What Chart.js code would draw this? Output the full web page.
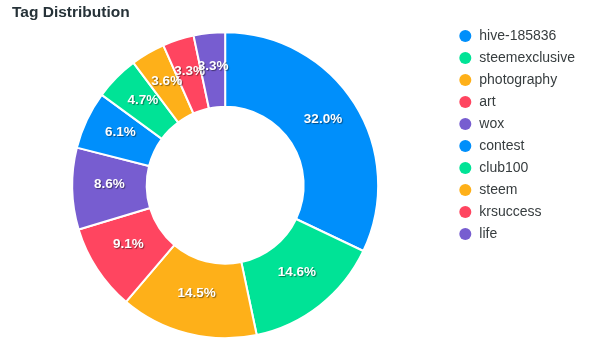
<!DOCTYPE html>
<html>
<head>
<meta charset="utf-8">
<script src="https://cdn.jsdelivr.net/npm/chart.js@4.4.1/dist/chart.umd.min.js"></script>
<style>
  html, body { margin: 0; padding: 0; background: #fff; }
  #wrap { position: relative; width: 595px; height: 352px; }
  #title {
    position: absolute; left: 12px; top: 4px;
    font: bold 15.5px "Liberation Sans", Arial, sans-serif;
    line-height: 1; color: #263238;
  }
  canvas { display: block; }
</style>
</head>
<body>
<div id="wrap">
  <div id="title">Tag Distribution</div>
  <canvas id="tagChart" width="595" height="352"></canvas>
</div>
<script>
const tags = ["hive-185836", "steemexclusive", "photography", "art", "wox",
              "contest", "club100", "steem", "krsuccess", "life"];
const shares = [32.0, 14.6, 14.5, 9.1, 8.6, 6.1, 4.7, 3.6, 3.3, 3.3];
const palette = ["#008FFB", "#00E396", "#FEB019", "#FF4560", "#775DD0"];

const FONT = "'Liberation Sans', Arial, sans-serif";

// percentage labels with a soft drop shadow, drawn in the middle of each slice
const sliceLabels = {
  id: "sliceLabels",
  afterDatasetsDraw(chart) {
    const ctx = chart.ctx;
    const meta = chart.getDatasetMeta(0);
    ctx.save();
    ctx.font = "bold 13.5px " + FONT;
    ctx.textAlign = "center";
    ctx.textBaseline = "middle";
    ctx.fillStyle = "#fff";
    ctx.shadowColor = "rgba(0,0,0,0.45)";
    ctx.shadowOffsetX = 1;
    ctx.shadowOffsetY = 1;
    ctx.shadowBlur = 1;
    meta.data.forEach((arc, i) => {
      const p = arc.tooltipPosition();
      ctx.fillText(shares[i].toFixed(1) + "%", p.x, p.y - 4);
    });
    ctx.restore();
  }
};

const baseLabels = Chart.overrides.doughnut.plugins.legend.labels.generateLabels;

new Chart(document.getElementById("tagChart"), {
  type: "doughnut",
  data: {
    labels: tags,
    datasets: [{
      data: shares,
      backgroundColor: tags.map((t, i) => palette[i % palette.length]),
      borderColor: "#fff",
      borderWidth: 2
    }]
  },
  options: {
    responsive: false,
    animation: false,
    events: [],
    radius: 153,
    cutout: "51.3%",
    layout: {
      padding: { top: 21, bottom: 2.4, left: -2, right: 10 }
    },
    plugins: {
      title: { display: false },
      tooltip: { enabled: false },
      legend: {
        position: "right",
        align: "start",
        labels: {
          usePointStyle: true,
          pointStyle: "circle",
          boxWidth: 14,
          boxHeight: 8.5,
          padding: 8,
          color: "#373d3f",
          font: { size: 14, family: FONT },
          generateLabels: (chart) =>
            baseLabels(chart).map(l => ({ ...l, lineWidth: 0 }))
        }
      }
    }
  },
  plugins: [sliceLabels]
});
</script>
</body>
</html>
